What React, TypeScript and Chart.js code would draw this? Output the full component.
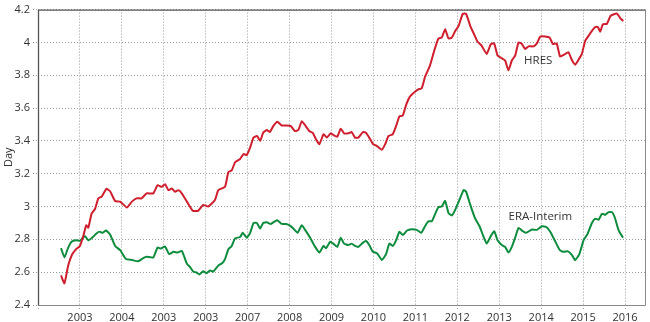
import { useEffect, useRef } from 'react';
import { Chart, registerables } from 'chart.js';

Chart.register(...registerables);

const FONT = '"Open Sans", "DejaVu Sans", sans-serif';

// x-axis tick labels for gridlines at 2003 ... 2016 (as printed on the original)
const xTickYears = [2003, 2004, 2005, 2006, 2007, 2008, 2009, 2010, 2011, 2012, 2013, 2014, 2015, 2016];
const xTickLabels = ['2003', '2004', '2003', '2003', '2007', '2008', '2009', '2010', '2011', '2012', '2013', '2014', '2015', '2016'];

const hresYears = [
  2002.55, 2002.63, 2002.72, 2002.81, 2002.91, 2003.0, 2003.08, 2003.15, 2003.2, 2003.28, 2003.36, 2003.44, 2003.52,
  2003.63, 2003.72, 2003.84, 2003.96, 2004.12, 2004.24, 2004.35, 2004.47, 2004.59, 2004.75, 2004.85, 2004.95, 2005.03,
  2005.11, 2005.19, 2005.27, 2005.35, 2005.43, 2005.55, 2005.69, 2005.82, 2005.94, 2006.06, 2006.22, 2006.3, 2006.46,
  2006.54, 2006.62, 2006.7, 2006.82, 2006.9, 2006.98, 2007.06, 2007.14, 2007.22, 2007.3, 2007.37, 2007.46, 2007.53,
  2007.61, 2007.71, 2007.81, 2007.92, 2008.03, 2008.13, 2008.21, 2008.29, 2008.37, 2008.47, 2008.55, 2008.63, 2008.71,
  2008.81, 2008.89, 2008.98, 2009.08, 2009.14, 2009.22, 2009.3, 2009.4, 2009.48, 2009.56, 2009.64, 2009.75, 2009.82,
  2009.9, 2009.99, 2010.08, 2010.2, 2010.28, 2010.36, 2010.46, 2010.54, 2010.62, 2010.7, 2010.78, 2010.87, 2010.99,
  2011.07, 2011.15, 2011.23, 2011.35, 2011.45, 2011.55, 2011.63, 2011.71, 2011.79, 2011.87, 2011.95, 2012.03, 2012.13,
  2012.21, 2012.31, 2012.4, 2012.48, 2012.58, 2012.7, 2012.8, 2012.88, 2012.96, 2013.06, 2013.14, 2013.22, 2013.3,
  2013.38, 2013.46, 2013.54, 2013.62, 2013.7, 2013.82, 2013.9, 2013.98, 2014.09, 2014.2, 2014.28, 2014.37, 2014.45,
  2014.55, 2014.65, 2014.73, 2014.81, 2014.89, 2014.97, 2015.05, 2015.13, 2015.21, 2015.29, 2015.35, 2015.41, 2015.47,
  2015.57, 2015.65, 2015.72, 2015.81, 2015.88, 2015.96,
];
const hresValues = [
  2.58, 2.532, 2.64, 2.706, 2.74, 2.76, 2.82, 2.886, 2.871, 2.958, 2.985, 3.05, 3.06,
  3.108, 3.093, 3.033, 3.03, 2.994, 3.03, 3.05, 3.05, 3.08, 3.08, 3.13, 3.12, 3.136,
  3.1, 3.11, 3.09, 3.1, 3.08, 3.03, 2.974, 2.974, 3.01, 3.0, 3.04, 3.1, 3.12,
  3.21, 3.22, 3.27, 3.29, 3.32, 3.314, 3.36, 3.42, 3.43, 3.4, 3.45, 3.466, 3.454,
  3.49, 3.516, 3.494, 3.494, 3.49, 3.46, 3.466, 3.52, 3.496, 3.46, 3.45, 3.41, 3.38,
  3.44, 3.42, 3.446, 3.43, 3.426, 3.474, 3.446, 3.446, 3.454, 3.42, 3.42, 3.454, 3.45,
  3.42, 3.38, 3.37, 3.346, 3.38, 3.43, 3.44, 3.49, 3.55, 3.554, 3.62, 3.67, 3.7,
  3.714, 3.72, 3.79, 3.86, 3.95, 4.024, 4.03, 4.08, 4.024, 4.03, 4.07, 4.1, 4.174,
  4.174, 4.1, 4.05, 4.006, 3.98, 3.93, 3.99, 3.994, 3.92, 3.904, 3.89, 3.83, 3.89,
  3.92, 4.0, 3.99, 3.96, 3.976, 3.976, 3.996, 4.036, 4.036, 4.03, 3.99, 3.994, 3.914,
  3.926, 3.94, 3.894, 3.864, 3.894, 3.93, 4.01, 4.04, 4.07, 4.094, 4.094, 4.066, 4.11,
  4.114, 4.16, 4.17, 4.176, 4.15, 4.13,
];

const eraYears = [
  2002.55, 2002.63, 2002.72, 2002.8, 2002.91, 2003.01, 2003.12, 2003.2, 2003.3, 2003.38, 2003.46, 2003.54, 2003.62,
  2003.72, 2003.84, 2003.96, 2004.1, 2004.24, 2004.39, 2004.51, 2004.59, 2004.75, 2004.85, 2004.93, 2005.03, 2005.13,
  2005.23, 2005.33, 2005.43, 2005.55, 2005.63, 2005.7, 2005.78, 2005.85, 2005.94, 2006.02, 2006.1, 2006.18, 2006.3,
  2006.39, 2006.46, 2006.54, 2006.62, 2006.7, 2006.82, 2006.88, 2006.98, 2007.06, 2007.14, 2007.22, 2007.3, 2007.37,
  2007.46, 2007.55, 2007.65, 2007.71, 2007.81, 2007.92, 2008.01, 2008.09, 2008.19, 2008.29, 2008.39, 2008.49, 2008.61,
  2008.71, 2008.81, 2008.87, 2008.97, 2009.04, 2009.14, 2009.22, 2009.3, 2009.4, 2009.48, 2009.56, 2009.64, 2009.75,
  2009.82, 2009.9, 2009.98, 2010.09, 2010.2, 2010.3, 2010.38, 2010.46, 2010.54, 2010.62, 2010.7, 2010.8, 2010.91,
  2011.03, 2011.14, 2011.23, 2011.31, 2011.39, 2011.47, 2011.55, 2011.63, 2011.71, 2011.79, 2011.87, 2011.95, 2012.05,
  2012.15, 2012.21, 2012.31, 2012.42, 2012.53, 2012.62, 2012.7, 2012.8, 2012.88, 2012.96, 2013.06, 2013.14, 2013.22,
  2013.3, 2013.38, 2013.46, 2013.54, 2013.64, 2013.78, 2013.9, 2014.02, 2014.13, 2014.23, 2014.33, 2014.44, 2014.53,
  2014.64, 2014.73, 2014.81, 2014.91, 2015.01, 2015.1, 2015.21, 2015.29, 2015.37, 2015.45, 2015.53, 2015.61, 2015.69,
  2015.76, 2015.84, 2015.95,
];
const eraValues = [
  2.746, 2.69, 2.75, 2.786, 2.794, 2.792, 2.82, 2.794, 2.812, 2.832, 2.847, 2.84, 2.854,
  2.83, 2.76, 2.734, 2.68, 2.674, 2.666, 2.686, 2.694, 2.69, 2.75, 2.744, 2.756, 2.71,
  2.724, 2.72, 2.73, 2.652, 2.63, 2.604, 2.598, 2.586, 2.606, 2.594, 2.61, 2.604, 2.64,
  2.654, 2.68, 2.74, 2.76, 2.806, 2.814, 2.84, 2.81, 2.84, 2.9, 2.9, 2.866, 2.9,
  2.904, 2.894, 2.91, 2.916, 2.894, 2.894, 2.884, 2.866, 2.84, 2.886, 2.85, 2.81, 2.754,
  2.72, 2.76, 2.746, 2.786, 2.774, 2.754, 2.81, 2.774, 2.766, 2.774, 2.76, 2.754, 2.78,
  2.79, 2.766, 2.726, 2.714, 2.674, 2.71, 2.774, 2.76, 2.794, 2.846, 2.826, 2.854, 2.862,
  2.858, 2.84, 2.88, 2.91, 2.91, 2.954, 2.996, 3.0, 3.034, 2.96, 2.946, 2.98, 3.04,
  3.1, 3.09, 3.01, 2.93, 2.88, 2.82, 2.774, 2.82, 2.85, 2.794, 2.766, 2.754, 2.72,
  2.754, 2.81, 2.87, 2.854, 2.84, 2.86, 2.858, 2.88, 2.874, 2.84, 2.79, 2.736, 2.724,
  2.727, 2.706, 2.673, 2.71, 2.794, 2.83, 2.9, 2.926, 2.92, 2.956, 2.95, 2.966, 2.966,
  2.93, 2.86, 2.81,
];

// in-plot series labels: text, year position, value position
const seriesLabels = ['HRES', 'ERA-Interim'];
const seriesLabelYears = [2013.93, 2013.98];
const seriesLabelValues = [3.888, 2.94];

const RED = '#cf1f2e';
const GREEN = '#0e8c3e';
const GRID = '#9c9c9c';
const TEXT = '#333333';

const labelPlugin = {
  id: 'seriesLabels',
  afterDatasetsDraw(chart: any) {
    const { ctx, scales } = chart;
    ctx.save();
    ctx.font = `11.5px ${FONT}`;
    ctx.fillStyle = TEXT;
    ctx.textAlign = 'center';
    ctx.textBaseline = 'middle';
    seriesLabels.forEach((t, i) => {
      ctx.fillText(t, scales.x.getPixelForValue(seriesLabelYears[i]), scales.y.getPixelForValue(seriesLabelValues[i]));
    });
    ctx.restore();
  },
};

const boxPlugin = {
  id: 'box',
  afterDraw(chart: any) {
    const { ctx, chartArea: a } = chart;
    const l = a.left + 0.5;
    const t = a.top + 0.5;
    const r = a.right - 0.5;
    const b = a.bottom + 0.5;
    ctx.save();
    ctx.lineWidth = 1;
    ctx.strokeStyle = '#8a8a8a';
    ctx.beginPath();
    ctx.moveTo(r, t);
    ctx.lineTo(r, b);
    ctx.lineTo(l, b);
    ctx.stroke();
    ctx.strokeStyle = '#555555';
    ctx.lineWidth = 1.3;
    ctx.beginPath();
    ctx.moveTo(l, b);
    ctx.lineTo(l, t);
    ctx.lineTo(r, t);
    ctx.stroke();
    ctx.restore();
  },
};

export default function App() {
  const ref = useRef<HTMLCanvasElement>(null);
  useEffect(() => {
    document.body.style.margin = '0';
    const chart = new Chart(ref.current!, {
      type: 'line',
      data: {
        datasets: [
          {
            label: 'HRES',
            data: hresYears.map((x, i) => ({ x, y: hresValues[i] })),
            borderColor: RED,
            borderWidth: 2,
            pointRadius: 0,
            fill: false,
            tension: 0.15,
          },
          {
            label: 'ERA-Interim',
            data: eraYears.map((x, i) => ({ x, y: eraValues[i] })),
            borderColor: GREEN,
            borderWidth: 2,
            pointRadius: 0,
            fill: false,
            tension: 0.15,
          },
        ],
      },
      options: {
        responsive: false,
        animation: false,
        events: [],
        layout: { padding: { top: 5, right: 4, left: 0, bottom: 0 }, autoPadding: false },
        plugins: { legend: { display: false }, tooltip: { enabled: false } },
        scales: {
          x: {
            type: 'linear',
            min: 2002,
            max: 2016.5,
            afterFit: (s: any) => {
              s.height = 17;
            },
            ticks: {
              stepSize: 1,
              includeBounds: false,
              autoSkip: false,
              maxRotation: 0,
              padding: 2,
              color: TEXT,
              font: { family: FONT, size: 11 },
              callback: (v: any) => {
                const i = xTickYears.indexOf(Math.round(Number(v)));
                return i >= 0 ? xTickLabels[i] : '';
              },
            },
            grid: {
              color: GRID,
              lineWidth: 1,
              tickLength: 4,
              tickColor: GRID,
              tickBorderDash: [1, 2],
            },
            border: { display: false, dash: [1, 2] },
          },
          y: {
            min: 2.4,
            max: 4.2,
            afterFit: (s: any) => {
              s.width = 38;
            },
            title: {
              display: true,
              text: 'Day',
              color: TEXT,
              font: { family: FONT, size: 11 },
              padding: { top: 2, bottom: 0 },
            },
            ticks: {
              stepSize: 0.2,
              includeBounds: false,
              padding: 3,
              color: TEXT,
              font: { family: FONT, size: 11 },
              callback: (v: any) => String(Math.round(Number(v) * 10) / 10),
            },
            grid: {
              color: GRID,
              lineWidth: 1,
              tickLength: 5,
              tickColor: GRID,
              tickBorderDash: [1, 2],
            },
            border: { display: false, dash: [1, 2] },
          },
        },
      },
      plugins: [labelPlugin, boxPlugin],
    });
    return () => chart.destroy();
  }, []);
  return (
    <div style={{ position: 'fixed', left: 0, top: 0, width: 650, height: 322, background: '#fff' }}>
      <canvas ref={ref} width={650} height={322} style={{ display: 'block', width: 650, height: 322 }} />
    </div>
  );
}
